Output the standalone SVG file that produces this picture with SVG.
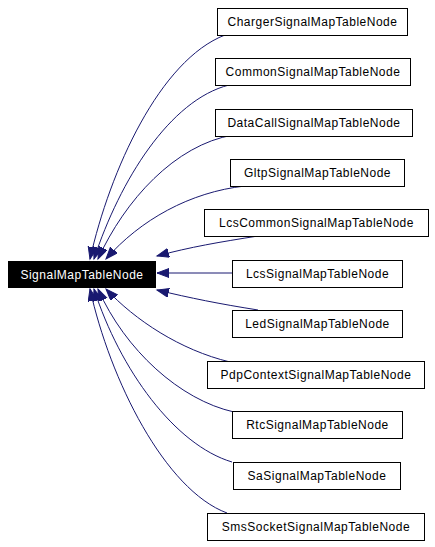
<svg xmlns="http://www.w3.org/2000/svg" width="435" height="547" viewBox="0 0 435 547">
<defs>
<style>
.box{fill:#fff;stroke:#000;stroke-width:1}
.main{fill:#000;stroke:#000;stroke-width:1}
text{font-family:"Liberation Sans",Arial,sans-serif;font-size:12px;letter-spacing:0.5px;text-anchor:middle;fill:#000}
.main-t{fill:#fff}
.edge{fill:none;stroke:#191970;stroke-width:1;marker-end:url(#arr)}
</style>
<marker id="arr" markerUnits="userSpaceOnUse" markerWidth="14" markerHeight="10" refX="12" refY="4.5" orient="auto">
<path d="M0,0 L12,4.5 L0,9 z" fill="#191970" stroke="#191970"/>
</marker>
</defs>
<rect width="435" height="547" fill="#fff"/>
<g id="connectors">
<path class="edge" d="M225,35 C160,60 110,170 90,259"/>
<path class="edge" d="M229,85 C170,100 120,180 94,259"/>
<path class="edge" d="M233,135 C175,145 125,200 98,259"/>
<path class="edge" d="M245,186 C190,192 140,220 106,259"/>
<path class="edge" d="M258,236 C220,242 190,247 157,256"/>
<path class="edge" d="M232,273 L157,273"/>
<path class="edge" d="M258,310 C220,304 190,298 157,290"/>
<path class="edge" d="M230,362 C180,350 135,320 106,289"/>
<path class="edge" d="M234,412 C180,400 125,350 98,289"/>
<path class="edge" d="M232,462 C175,445 120,370 94,289"/>
<path class="edge" d="M227,513 C165,490 110,380 90,289"/>
</g>
<g id="SignalMapTableNode"><rect class="main" x="8.5" y="261.5" width="147" height="26"/><text class="main-t" x="82" y="279">SignalMapTableNode</text></g>
<g id="ChargerSignalMapTableNode"><rect class="box" x="217.5" y="8.5" width="190" height="27"/><text x="312.5" y="26">ChargerSignalMapTableNode</text></g>
<g id="CommonSignalMapTableNode"><rect class="box" x="215.5" y="58.5" width="195" height="27"/><text x="313" y="76">CommonSignalMapTableNode</text></g>
<g id="DataCallSignalMapTableNode"><rect class="box" x="215.5" y="109.5" width="197" height="27"/><text x="314" y="127">DataCallSignalMapTableNode</text></g>
<g id="GltpSignalMapTableNode"><rect class="box" x="230.5" y="159.5" width="174" height="27"/><text x="317.5" y="177">GltpSignalMapTableNode</text></g>
<g id="LcsCommonSignalMapTableNode"><rect class="box" x="204.5" y="209.5" width="224" height="27"/><text x="316.5" y="227">LcsCommonSignalMapTableNode</text></g>
<g id="LcsSignalMapTableNode"><rect class="box" x="232.5" y="260.5" width="170" height="27"/><text x="317.5" y="278">LcsSignalMapTableNode</text></g>
<g id="LedSignalMapTableNode"><rect class="box" x="232.5" y="310.5" width="170" height="27"/><text x="317.5" y="328">LedSignalMapTableNode</text></g>
<g id="PdpContextSignalMapTableNode"><rect class="box" x="207.5" y="361.5" width="217" height="27"/><text x="316" y="379">PdpContextSignalMapTableNode</text></g>
<g id="RtcSignalMapTableNode"><rect class="box" x="232.5" y="411.5" width="170" height="27"/><text x="317.5" y="429">RtcSignalMapTableNode</text></g>
<g id="SaSignalMapTableNode"><rect class="box" x="233.5" y="462.5" width="167" height="27"/><text x="317" y="480">SaSignalMapTableNode</text></g>
<g id="SmsSocketSignalMapTableNode"><rect class="box" x="207.5" y="513.5" width="217" height="27"/><text x="316" y="531">SmsSocketSignalMapTableNode</text></g>
</svg>
